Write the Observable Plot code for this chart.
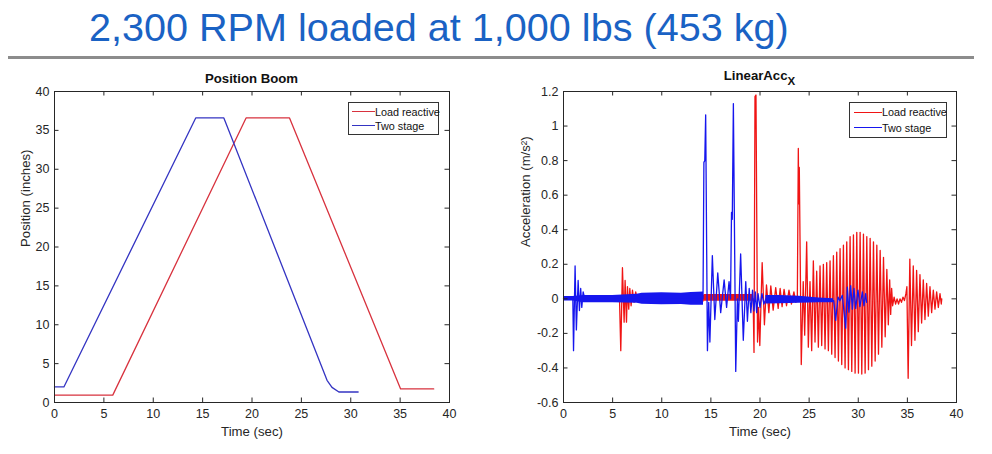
<!DOCTYPE html>
<html><head><meta charset="utf-8">
<script src="https://cdn.jsdelivr.net/npm/d3@7"></script>
<script src="https://cdn.jsdelivr.net/npm/@observablehq/plot@0.6"></script>
<style>
body{margin:0;background:#fff;font-family:"Liberation Sans",Arial,Helvetica,sans-serif;}
#page{position:relative;width:992px;height:454px;overflow:hidden;background:#fff;}
#title{position:absolute;left:89px;top:7.5px;font-size:39.6px;line-height:1;color:#1a62c4;white-space:nowrap;}
#rule{position:absolute;left:8px;top:56px;width:966px;height:2.5px;background:#8c8c8c;}
.chart{position:absolute;top:60px;}
.ptitle{position:absolute;font-weight:bold;font-size:13.2px;line-height:1;color:#111;transform:translateX(-50%);white-space:nowrap;}
.legend{position:absolute;box-sizing:border-box;border:1px solid #333;background:#fff;font-size:10.8px;color:#111;}
.legend .row{position:absolute;left:0;display:flex;align-items:center;height:14px;white-space:nowrap;}
.legend .sw{display:inline-block;height:0;}
</style></head><body>
<div id="page">
  <div id="title">2,300 RPM loaded at 1,000 lbs (453 kg)</div>
  <div id="rule"></div>
</div>
<script>
// ---------- shared ----------
const seriesNames = ["Load reactive", "Two stage"];
const xTicks = [0, 5, 10, 15, 20, 25, 30, 35, 40];
const xLabel = "Time (sec)";

// ---------- left chart: Position Boom ----------
const posTitle = "Position Boom";
const posYLabel = "Position (inches)";
const posYTicks = [0, 5, 10, 15, 20, 25, 30, 35, 40];
const posRedT = [0, 5.9, 19.4, 23.8, 35.05, 38.4];
const posRedV = [0.95, 0.95, 36.6, 36.6, 1.75, 1.75];
const posBlueT = [0, 0.95, 14.3, 17.15, 27.6, 28.1, 28.8, 30.75];
const posBlueV = [2.0, 2.0, 36.6, 36.6, 2.85, 1.95, 1.35, 1.35];

// ---------- right chart: LinearAcc_X ----------
const accYLabel = "Acceleration (m/s\u00B2)";
const accYTicks = [-0.6, -0.4, -0.2, 0, 0.2, 0.4, 0.6, 0.8, 1, 1.2];
const accRedT = [0, 5.7, 5.83, 6.0, 6.17, 6.27, 6.41, 6.51, 6.64, 6.75, 6.88, 7.02, 7.18, 7.35, 7.53, 7.69, 7.8,
  19.3, 19.39, 19.49, 19.59, 19.75, 19.86, 19.98, 20.22, 20.45, 20.66, 20.9, 21.1, 21.34, 21.6, 21.85, 22.05, 22.25, 22.45, 22.7, 22.95, 23.2, 23.45, 23.65, 23.8,
  23.9, 23.95, 24.0, 24.2, 24.4, 24.55,
  24.75, 24.92, 25.09, 25.26, 25.43, 25.6, 25.77, 25.94, 26.11, 26.28, 26.45, 26.62, 26.79, 26.96, 27.13, 27.3, 27.47, 27.64, 27.81, 27.98, 28.15, 28.32, 28.49, 28.66, 28.83, 29.0, 29.17, 29.34, 29.51, 29.68, 29.85, 30.02, 30.19, 30.36, 30.53, 30.7, 30.87, 31.04, 31.21, 31.38, 31.55, 31.72, 31.89, 32.06, 32.23, 32.4, 32.57, 32.74, 32.91, 33.06, 33.2, 33.3, 33.4, 33.5,
  33.65, 33.8, 33.95, 34.1, 34.25, 34.4, 34.55, 34.7, 34.85, 34.95,
  35.08, 35.25, 35.42, 35.6, 35.77, 35.94, 36.11, 36.28, 36.45, 36.62, 36.79, 36.96, 37.13, 37.3, 37.47, 37.64, 37.81, 37.98, 38.15, 38.32, 38.45, 38.5];
const accRedV = [0, 0, -0.30, 0.18, -0.135, 0.106, -0.135, 0.07, -0.06, 0.06, -0.04, 0.05, -0.02, 0.04, -0.01, 0.02, 0,
  0, -0.31, 1.17, 1.18, -0.25, -0.05, -0.27, 0.21, -0.15, 0.08, -0.08, 0.075, -0.065, 0.065, -0.055, 0.06, -0.045, 0.055, -0.04, 0.05, -0.03, 0.04, -0.02, 0.0,
  0.87, 0.55, 0.76, -0.38, 0.10, -0.21,
  0.33, -0.28, 0.10, -0.30, 0.22, -0.25, 0.16, -0.28, 0.19, -0.27, 0.20, -0.29, 0.21, -0.30, 0.22, -0.32, 0.25, -0.34, 0.27, -0.36, 0.29, -0.38, 0.31, -0.40, 0.33, -0.41, 0.36, -0.42, 0.37, -0.43, 0.385, -0.43, 0.385, -0.435, 0.375, -0.43, 0.36, -0.41, 0.35, -0.39, 0.33, -0.36, 0.31, -0.32, 0.28, -0.28, 0.24, -0.22, 0.17, -0.15, 0.11, -0.09, 0.06, -0.04,
  0.01, -0.03, 0.0, -0.03, 0.0, -0.02, 0.01, -0.01, 0.03, 0.07,
  -0.46, 0.23, -0.27, 0.19, -0.24, 0.165, -0.19, 0.14, -0.14, 0.11, -0.12, 0.09, -0.10, 0.07, -0.08, 0.05, -0.06, 0.04, -0.05, 0.03, -0.03, 0.0];
const accBlueT = [0, 0.95, 1.02, 1.18, 1.31, 1.49, 1.62, 1.75, 1.86, 2.0, 2.17,
  14.2, 14.29, 14.38, 14.47, 14.65, 14.78, 14.9, 15.15, 15.4, 15.7, 16.0, 16.35, 16.6, 16.85, 17.0, 17.1, 17.18, 17.29, 17.53, 17.7, 17.8, 18.03, 18.3, 18.55, 18.72, 18.9, 19.07, 19.24, 19.38, 19.52, 19.66, 19.8, 20.0, 20.2, 20.4, 20.6,
  27.5, 27.7, 27.94, 28.14, 28.38, 28.72, 28.89, 29.05, 29.23, 29.4, 29.56, 29.74, 29.97, 30.17, 30.42, 30.58, 30.75, 30.85];
const accBlueV = [0, 0, -0.30, 0.19, -0.18, 0.106, -0.068, 0.06, -0.05, 0.04, 0,
  0, 0.79, 0.80, 1.065, -0.30, -0.02, -0.25, 0.25, -0.12, 0.15, -0.08, 0.11, -0.05, 0.10, 0.0, 0.50, 0.46, 1.13, -0.42, 0.0, -0.13, 0.26, -0.24, 0.10, -0.13, 0.06, -0.08, 0.05, -0.07, 0.04, -0.08, 0.03, -0.05, 0.03, -0.03, 0.0,
  -0.01, -0.125, 0.01, -0.01, 0.02, -0.17, 0.067, -0.077, 0.077, -0.06, 0.06, -0.055, 0.05, -0.045, 0.04, -0.04, 0.03, -0.02];
// dense noise envelopes (min / max of the fast vibration)
const redBandT  = [0, 5.7, 7.8, 14.3, 14.3, 19.3];
const redBandLo = [-0.006, -0.006, -0.02, -0.02, -0.014, -0.014];
const redBandHi = [0.006, 0.006, 0.02, 0.02, 0.025, 0.025];
const blueBandT  = [0, 0.95, 2.1, 5, 7.5, 8, 10, 12, 13, 14.25, 17, 20.6, 22, 24, 26, 27.5];
const blueBandLo = [-0.013, -0.013, -0.022, -0.023, -0.026, -0.032, -0.034, -0.033, -0.037, -0.037, NaN, -0.03, -0.028, -0.025, -0.022, -0.022];
const blueBandHi = [0.013, 0.013, 0.019, 0.02, 0.026, 0.032, 0.035, 0.033, 0.037, 0.04, NaN, 0.02, 0.02, 0.015, 0.005, 0.0];

// ---------- styling ----------
const posColors = ["#d8323e", "#3434c2"];
const accColors = ["#f01414", "#1616ee"];
const axisColor = "#262626";

const rows = (T, V) => T.map((t, i) => ({t, v: V[i]}));
const bandRows = (T, L, H) => T.map((t, i) => ({t, lo: L[i], hi: H[i]}));
const accFmt = d => String(Math.round(d * 10) / 10);

function chart({W, H, mL, mR, mT, mB, yDomain, yTicks, yFmt, yLabel, yLabelDx, marks}) {
  const iw = W - mL - mR, ih = H - mT - mB, tk = 4.5;
  return Plot.plot({
    width: W, height: H,
    marginLeft: mL, marginRight: mR, marginTop: mT, marginBottom: mB,
    style: {fontFamily: "'Liberation Sans', Arial, sans-serif", fontSize: "12.5px", color: axisColor, background: "white", overflow: "visible"},
    x: {domain: [0, 40]},
    y: {domain: yDomain},
    marks: [
      ...marks,
      Plot.gridX(xTicks, {stroke: axisColor, strokeOpacity: 1, insetTop: ih - tk}),
      Plot.gridX(xTicks, {stroke: axisColor, strokeOpacity: 1, insetBottom: ih - tk}),
      Plot.gridY(yTicks, {stroke: axisColor, strokeOpacity: 1, insetRight: iw - tk}),
      Plot.gridY(yTicks, {stroke: axisColor, strokeOpacity: 1, insetLeft: iw - tk}),
      Plot.frame({stroke: axisColor, strokeWidth: 1}),
      Plot.axisX(xTicks, {anchor: "bottom", tickSize: 0, tickPadding: 7, label: null, fontSize: 12.5, fill: axisColor}),
      Plot.axisY(yTicks, {anchor: "left", tickSize: 0, tickPadding: 5, label: null, tickFormat: yFmt, fontSize: 12.5, fill: axisColor}),
      Plot.text([xLabel], {frameAnchor: "bottom", dy: 33, fontSize: 13.2, fill: axisColor}),
      Plot.text([yLabel], {frameAnchor: "left", dx: yLabelDx, rotate: -90, fontSize: 13.2, fill: axisColor})
    ]
  });
}

const page = document.getElementById("page");

function place(svg, left) {
  const d = document.createElement("div");
  d.className = "chart";
  d.style.left = left + "px";
  d.appendChild(svg);
  page.appendChild(d);
}

function addTitle(html, cx, top) {
  const d = document.createElement("div");
  d.className = "ptitle";
  d.style.left = cx + "px";
  d.style.top = top + "px";
  d.innerHTML = html;
  page.appendChild(d);
}

function addLegend({left, top, width, height, firstRow, rowGap, swLeft, swW, colors, sw}) {
  const box = document.createElement("div");
  box.className = "legend";
  Object.assign(box.style, {left: left + "px", top: top + "px", width: width + "px", height: height + "px"});
  seriesNames.forEach((name, i) => {
    const r = document.createElement("div");
    r.className = "row";
    r.style.top = (firstRow + i * rowGap - 7 - 1) + "px";
    r.style.left = (swLeft - 1) + "px";
    const s = document.createElement("span");
    s.className = "sw";
    s.style.width = swW + "px";
    s.style.borderTop = sw + "px solid " + colors[i];
    const t = document.createElement("span");
    t.textContent = name;
    r.appendChild(s); r.appendChild(t);
    box.appendChild(r);
  });
  page.appendChild(box);
}

// left
place(chart({
  W: 496, H: 394, mL: 54, mR: 47, mT: 31, mB: 52,
  yDomain: [0, 40], yTicks: posYTicks, yFmt: d => String(d), yLabel: posYLabel, yLabelDx: -29,
  marks: [
    Plot.line(rows(posRedT, posRedV), {x: "t", y: "v", stroke: posColors[0], strokeWidth: 1.3}),
    Plot.line(rows(posBlueT, posBlueV), {x: "t", y: "v", stroke: posColors[1], strokeWidth: 1.3})
  ]
}), 0);

// right
place(chart({
  W: 496, H: 394, mL: 67, mR: 36, mT: 31, mB: 52,
  yDomain: [-0.6, 1.2], yTicks: accYTicks, yFmt: accFmt, yLabel: accYLabel, yLabelDx: -38,
  marks: [
    Plot.areaY(bandRows(redBandT, redBandLo, redBandHi), {x: "t", y1: "lo", y2: "hi", fill: accColors[0]}),
    Plot.line(rows(accRedT, accRedV), {x: "t", y: "v", stroke: accColors[0], strokeWidth: 1.3}),
    Plot.areaY(bandRows(blueBandT, blueBandLo, blueBandHi), {x: "t", y1: "lo", y2: "hi", fill: accColors[1]}),
    Plot.line(rows(accBlueT, accBlueV), {x: "t", y: "v", stroke: accColors[1], strokeWidth: 1.3})
  ]
}), 496);

addTitle(posTitle, 251.5, 72.3);
addTitle('LinearAcc<span style="position:relative;top:5px;font-size:11.5px;">X</span>', 759.5, 68.8);

addLegend({left: 348, top: 102, width: 91, height: 33, firstRow: 9.7, rowGap: 14, swLeft: 4, swW: 23, colors: posColors, sw: 1.3});
addLegend({left: 849, top: 102, width: 98, height: 36, firstRow: 10.3, rowGap: 15.4, swLeft: 5, swW: 28, colors: accColors, sw: 1.5});
</script>
</body></html>
